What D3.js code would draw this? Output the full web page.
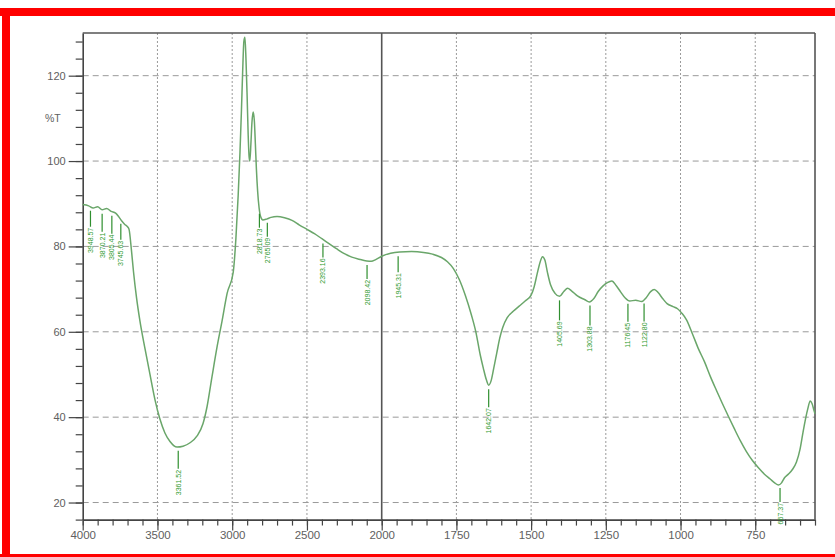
<!DOCTYPE html>
<html>
<head>
<meta charset="utf-8">
<script src="https://cdn.jsdelivr.net/npm/d3@7"></script>
<style>
  html, body { margin: 0; padding: 0; background: #fff; }
  svg { display: block; }
  text { font-family: "Liberation Sans", Arial, sans-serif; }
</style>
</head>
<body>
<svg id="chart" width="835" height="557"></svg>
<script>
// FTIR transmittance spectrum (wavenumber in cm-1, %T)
const wavenumbers = [
  4000, 3960, 3930, 3900, 3870, 3840, 3810, 3780, 3760, 3740, 3720, 3700, 3690, 3675, 3660, 3640,
  3617, 3583, 3550, 3516, 3483, 3450, 3416, 3369, 3329, 3282, 3235, 3195, 3168, 3135, 3101, 3068,
  3034, 2993, 2975, 2960, 2948, 2938, 2930, 2922, 2915, 2908, 2900, 2893, 2887, 2882, 2875, 2868,
  2860, 2852, 2845, 2838, 2830, 2820, 2810, 2795, 2770, 2740, 2700, 2650, 2600, 2550, 2500, 2450,
  2400, 2350, 2300, 2250, 2200, 2150, 2100, 2070, 2040, 2000, 1970, 1940, 1900, 1860, 1830, 1800,
  1780, 1760, 1740, 1720, 1700, 1685, 1670, 1660, 1650, 1642, 1634, 1625, 1615, 1605, 1595, 1580,
  1560, 1540, 1520, 1500, 1490, 1480, 1470, 1462, 1454, 1445, 1435, 1420, 1405, 1390, 1378, 1365,
  1345, 1320, 1305, 1290, 1275, 1260, 1245, 1230, 1215, 1200, 1185, 1170, 1150, 1130, 1115, 1100,
  1088, 1075, 1060, 1045, 1025, 1010, 995, 980, 960, 940, 920, 900, 880, 860, 840, 820,
  800, 780, 760, 740, 720, 700, 685, 672, 662, 652, 640, 625, 612, 600, 590, 582,
  574, 566, 560, 553, 550
];
const transmittance = [
  89.8, 89.5, 89.0, 89.3, 88.6, 88.9, 88.2, 87.8, 87.0, 86.0, 85.2, 84.6, 84.0, 79.5, 74.0, 68.0,
  62.5, 56.0, 50.0, 44.0, 39.5, 36.3, 34.3, 33.0, 33.2, 34.0, 35.6, 38.5, 42.5, 49.5, 56.5, 62.5,
  69.0, 74.0, 82.0, 92.0, 102.0, 112.0, 121.0, 128.0, 129.0, 124.0, 115.0, 106.0, 101.0, 100.0, 104.0, 109.0,
  111.5, 109.5, 104.0, 98.0, 93.0, 89.0, 87.0, 86.2, 86.4, 86.8, 87.0, 86.7, 86.1, 85.0, 84.0, 83.0,
  81.8, 80.6, 79.4, 78.3, 77.5, 77.0, 76.6, 76.5, 76.9, 77.7, 78.4, 78.7, 78.8, 78.6, 78.2, 77.4,
  76.4, 74.8, 72.2, 68.5, 64.0, 60.0, 54.5, 51.5, 48.8, 47.5, 48.5, 51.5, 55.0, 58.5, 61.0, 63.3,
  64.8, 66.0, 67.2, 68.6, 70.5, 73.5, 76.3, 77.6, 76.8, 73.8, 71.0, 69.0, 68.3, 69.5, 70.2, 69.6,
  68.4, 67.5, 67.0, 67.8, 69.5, 70.7, 71.5, 71.9, 70.8, 69.3, 67.9, 67.2, 67.4, 67.1, 68.0, 69.4,
  69.9, 69.2, 67.8, 66.6, 65.9, 65.4, 64.3, 62.8, 59.5, 56.0, 53.0, 49.5, 46.3, 43.2, 40.2, 37.3,
  34.5, 32.0, 29.9, 28.2, 26.7, 25.5, 24.6, 24.1, 24.6, 25.8, 26.6, 27.8, 29.5, 32.5, 36.5, 39.5,
  42.0, 43.8, 43.2, 41.5, 40.8
];

// Peak picks (wavenumber labels)
const peakWn     = [3948, 3870, 3805, 3745, 3361, 2818, 2765, 2393, 2098, 1945, 1642, 1405, 1303, 1176, 1122, 667];
const peakLabels = ["3948.57", "3870.21", "3805.44", "3745.63", "3361.52", "2818.73", "2765.09", "2393.16",
                    "2098.42", "1945.31", "1642.07", "1405.69", "1303.88", "1176.45", "1122.80", "667.37"];
// leader length below the trace (px) for each pick
const peakLead   = [16, 18, 18, 16, 18, 14, 14, 14, 14, 16, 18, 20, 20, 18, 18, 14];

// Axis ticks
const xMajorTicks = [4000, 3500, 3000, 2500, 2000, 1750, 1500, 1250, 1000, 750];
const yMajorTicks = [20, 40, 60, 80, 100, 120];

const svg = d3.select("#chart");

// frame of the report page
svg.append("rect").attr("x", 0).attr("y", 8).attr("width", 835).attr("height", 8).attr("fill", "#ff0000");
svg.append("rect").attr("x", 2).attr("y", 8).attr("width", 8).attr("height", 549).attr("fill", "#ff0000");
svg.append("rect").attr("x", 0).attr("y", 554).attr("width", 835).attr("height", 3).attr("fill", "#ff0000");

const plotLeft = 82.7, plotRight = 815, plotTop = 33, plotBottom = 519.6;

// wavenumber axis is expanded 2x below 2000 cm-1
const x = d3.scaleLinear().domain([4000, 2000, 550]).range([plotLeft, 381.7, plotRight]);
const y = d3.scaleLinear().domain([16, 130]).range([plotBottom, plotTop]);

// grid
const grid = svg.append("g");
grid.selectAll("line.h").data(yMajorTicks).join("line")
  .attr("x1", plotLeft).attr("x2", plotRight)
  .attr("y1", d => y(d)).attr("y2", d => y(d))
  .attr("stroke", "#9a9a9a").attr("stroke-width", 1).attr("stroke-dasharray", "6,4");
grid.selectAll("line.v").data(xMajorTicks.filter(d => d !== 4000 && d !== 2000)).join("line")
  .attr("x1", d => x(d)).attr("x2", d => x(d))
  .attr("y1", plotTop).attr("y2", plotBottom)
  .attr("stroke", "#9a9a9a").attr("stroke-width", 1).attr("stroke-dasharray", "2,2");
// scale-change line at 2000 cm-1
svg.append("line")
  .attr("x1", x(2000)).attr("x2", x(2000)).attr("y1", plotTop).attr("y2", plotBottom)
  .attr("stroke", "#555").attr("stroke-width", 1.6);

// plot border (top and right)
svg.append("line").attr("x1", plotLeft).attr("x2", plotRight).attr("y1", plotTop).attr("y2", plotTop)
  .attr("stroke", "#555").attr("stroke-width", 1.6);
svg.append("line").attr("x1", plotRight).attr("x2", plotRight).attr("y1", plotTop).attr("y2", plotBottom)
  .attr("stroke", "#555").attr("stroke-width", 1.6);

// x axis
const xMinor = d3.range(4000, 2000, -100).concat(d3.range(2000, 549, -50));
svg.append("g").attr("transform", `translate(0,${plotBottom})`)
  .call(d3.axisBottom(x).tickValues(xMinor).tickSize(6).tickFormat(""))
  .call(g => g.select(".domain").remove())
  .call(g => g.selectAll("line").attr("stroke", "#444").attr("stroke-width", 1.2));
svg.append("g").attr("transform", `translate(0,${plotBottom})`)
  .call(d3.axisBottom(x).tickValues(xMajorTicks).tickSize(11).tickSizeOuter(0).tickFormat(d3.format("d")))
  .call(g => g.select(".domain").attr("stroke", "#444").attr("stroke-width", 1.6))
  .call(g => g.selectAll("line").attr("stroke", "#444").attr("stroke-width", 1.2))
  .call(g => g.selectAll("text").attr("font-size", 11.5).attr("fill", "#606060").attr("dy", "0.5em"));

// y axis
const yMinor = d3.range(16, 131, 4);
svg.append("g").attr("transform", `translate(${plotLeft},0)`)
  .call(d3.axisLeft(y).tickValues(yMinor).tickSize(7).tickFormat(""))
  .call(g => g.select(".domain").remove())
  .call(g => g.selectAll("line").attr("stroke", "#444").attr("stroke-width", 1.2));
svg.append("g").attr("transform", `translate(${plotLeft},0)`)
  .call(d3.axisLeft(y).tickValues(yMajorTicks).tickSize(14).tickSizeOuter(0).tickFormat(d3.format("d")))
  .call(g => g.select(".domain").attr("stroke", "#444").attr("stroke-width", 1.6))
  .call(g => g.selectAll("line").attr("stroke", "#444").attr("stroke-width", 1.2))
  .call(g => g.selectAll("text").attr("font-size", 11).attr("fill", "#606060"));

svg.append("text").attr("x", 45).attr("y", 122).attr("font-size", 10.5).attr("fill", "#606060").text("%T");

// spectrum trace
const spectrum = wavenumbers.map((w, i) => ({ w, t: transmittance[i] }));
svg.append("path").datum(spectrum)
  .attr("fill", "none").attr("stroke", "#6aa66a").attr("stroke-width", 1.5)
  .attr("d", d3.line().x(d => x(d.w)).y(d => y(d.t)).curve(d3.curveMonotoneX));

// peak picks: leader line below the trace, then the rotated wavenumber
const tAt = w => {
  for (let i = 0; i < wavenumbers.length - 1; i++) {
    const a = wavenumbers[i], b = wavenumbers[i + 1];
    if (w <= a && w >= b) {
      const f = (a - w) / (a - b);
      return transmittance[i] + f * (transmittance[i + 1] - transmittance[i]);
    }
  }
  return transmittance[transmittance.length - 1];
};
const picks = svg.append("g");
peakWn.forEach((w, i) => {
  const px = x(w), py = y(tAt(w)) + 4, py2 = py + peakLead[i];
  picks.append("line").attr("x1", px).attr("x2", px).attr("y1", py).attr("y2", py2)
    .attr("stroke", "#2f8f2f").attr("stroke-width", 1.2);
  picks.append("text")
    .attr("transform", `translate(${px + 2.5},${py2 + 1}) rotate(-90)`)
    .attr("text-anchor", "end").attr("font-size", 7).attr("fill", "#2f9a2f")
    .text(peakLabels[i]);
});
</script>
</body>
</html>
